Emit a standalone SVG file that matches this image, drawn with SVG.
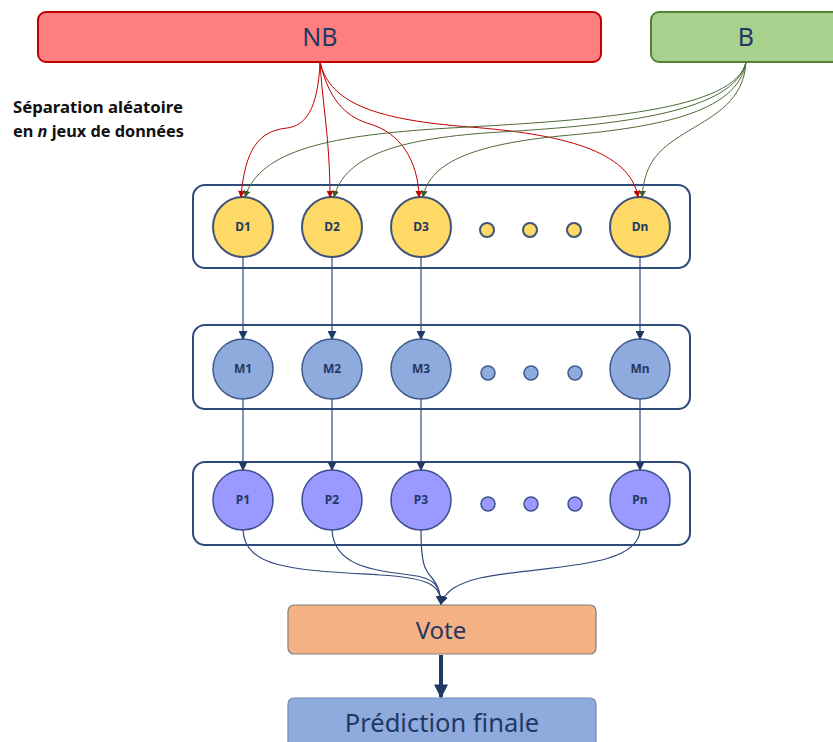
<svg xmlns="http://www.w3.org/2000/svg" width="833" height="742" viewBox="0 0 833 742">
<style>
.box{stroke-width:2}
.cont{fill:#fff;stroke:#2f4b7c;stroke-width:2}
.d{fill:#ffd966;stroke:#3f5478;stroke-width:2}
.m{fill:#8faadc;stroke:#3f5a8a;stroke-width:1.5}
.p{fill:#9999ff;stroke:#3d4f8a;stroke-width:1.5}
.lbl{font-family:"Noto Sans","Open Sans",sans-serif;font-weight:bold;font-size:12px;fill:#1f3864;text-anchor:middle}
.big{font-family:"Noto Sans","Open Sans",sans-serif;fill:#1f3864;text-anchor:middle}
.side{font-family:"Noto Sans","Open Sans",sans-serif;font-weight:bold;font-size:15.5px;fill:#111}
.red{fill:none;stroke:#c00000;stroke-width:1}
.grn{fill:none;stroke:#4e6b35;stroke-width:1}
.blu{fill:none;stroke:#2f4b7c;stroke-width:1.2}
</style>
<defs>
<marker id="ar" viewBox="0 0 10 10" refX="9" refY="5" markerWidth="7" markerHeight="7" orient="auto" markerUnits="userSpaceOnUse"><path d="M0,0L10,5L0,10z" fill="#c00000"/></marker>
<marker id="ag" viewBox="0 0 10 10" refX="9" refY="5" markerWidth="7" markerHeight="7" orient="auto" markerUnits="userSpaceOnUse"><path d="M0,0L10,5L0,10z" fill="#3d5a28"/></marker>
<marker id="ab" viewBox="0 0 10 10" refX="9" refY="5" markerWidth="9" markerHeight="9" orient="auto" markerUnits="userSpaceOnUse"><path d="M0,0L10,5L0,10z" fill="#1f3864"/></marker>
<marker id="abig" viewBox="0 0 10 10" refX="9" refY="5" markerWidth="14" markerHeight="14" orient="auto" markerUnits="userSpaceOnUse"><path d="M0,0L10,5L0,10z" fill="#1f3864"/></marker>
</defs>

<g id="NB"><rect x="38" y="12" width="563" height="50" rx="8" fill="#ff7f7f" stroke="#c00000" class="box"/><text x="320" y="46" class="big" font-size="25">NB</text></g>
<g id="B"><rect x="651" y="12" width="200" height="50" rx="8" fill="#a9d18e" stroke="#548235" class="box"/><text x="746" y="46" class="big" font-size="25">B</text></g>
<g id="label"><text x="13" y="113" class="side" textLength="170" lengthAdjust="spacingAndGlyphs">Séparation aléatoire</text><text x="13" y="137" class="side" textLength="171" lengthAdjust="spacingAndGlyphs">en <tspan font-style="italic">n</tspan> jeux de données</text></g>

<g id="rowD"><rect x="193" y="185" width="497" height="83" rx="12" class="cont"/>
<g id="D1"><circle cx="243" cy="227" r="30" class="d"/><text x="243" y="231" class="lbl">D1</text></g>
<g id="D2"><circle cx="332" cy="227" r="30" class="d"/><text x="332" y="231" class="lbl">D2</text></g>
<g id="D3"><circle cx="421" cy="227" r="30" class="d"/><text x="421" y="231" class="lbl">D3</text></g>
<circle cx="487" cy="230" r="7" class="d"/><circle cx="530" cy="230" r="7" class="d"/><circle cx="574" cy="230" r="7" class="d"/>
<g id="Dn"><circle cx="640" cy="227" r="30" class="d"/><text x="640" y="231" class="lbl">Dn</text></g></g>

<g id="rowM"><rect x="193" y="325" width="497" height="84" rx="12" class="cont"/>
<g id="M1"><circle cx="243" cy="369" r="30" class="m"/><text x="243" y="373" class="lbl">M1</text></g>
<g id="M2"><circle cx="332" cy="369" r="30" class="m"/><text x="332" y="373" class="lbl">M2</text></g>
<g id="M3"><circle cx="421" cy="369" r="30" class="m"/><text x="421" y="373" class="lbl">M3</text></g>
<circle cx="488" cy="373" r="7" class="m"/><circle cx="531" cy="373" r="7" class="m"/><circle cx="575" cy="373" r="7" class="m"/>
<g id="Mn"><circle cx="640" cy="369" r="30" class="m"/><text x="640" y="373" class="lbl">Mn</text></g></g>

<g id="rowP"><rect x="193" y="462" width="497" height="83" rx="12" class="cont"/>
<g id="P1"><circle cx="243" cy="500" r="30" class="p"/><text x="243" y="504" class="lbl">P1</text></g>
<g id="P2"><circle cx="332" cy="500" r="30" class="p"/><text x="332" y="504" class="lbl">P2</text></g>
<g id="P3"><circle cx="421" cy="500" r="30" class="p"/><text x="421" y="504" class="lbl">P3</text></g>
<circle cx="488" cy="504" r="7" class="p"/><circle cx="531" cy="504" r="7" class="p"/><circle cx="575" cy="504" r="7" class="p"/>
<g id="Pn"><circle cx="640" cy="500" r="30" class="p"/><text x="640" y="504" class="lbl">Pn</text></g></g>

<g id="Vote"><rect x="288" y="605" width="308" height="49" rx="6" fill="#f4b183" stroke="#7f7f7f" stroke-width="1.2"/><text x="441" y="639" class="big" font-size="24">Vote</text></g>
<g id="Prediction"><rect x="288" y="698" width="308" height="60" rx="6" fill="#8faadc" stroke="#6d87b8" stroke-width="1.2"/><text x="442" y="732" class="big" font-size="25.5">Prédiction finale</text></g>

<g id="connectors">
<path class="red" marker-end="url(#ar)" d="M320,62 C318,110 305,126 287,128 C258,131 245,150 241,197"/>
<path class="red" marker-end="url(#ar)" d="M320,62 C322,100 330,140 330,197"/>
<path class="red" marker-end="url(#ar)" d="M320,62 C330,105 350,118 370,124 C400,133 418,160 419,197"/>
<path class="red" marker-end="url(#ar)" d="M320,62 C330,105 380,120 470,127 C560,134 630,150 638,197"/>
<path class="grn" marker-end="url(#ag)" d="M746,62 C744,100 715,115 690,130 C660,148 645,160 642,197"/>
<path class="grn" marker-end="url(#ag)" d="M746,62 C735,110 600,120 450,128 C330,135 260,150 245,197"/>
<path class="grn" marker-end="url(#ag)" d="M746,62 C735,112 620,125 500,132 C400,138 345,155 334,197"/>
<path class="grn" marker-end="url(#ag)" d="M746,62 C738,115 650,128 560,136 C480,144 430,160 423,197"/>
<path class="blu" marker-end="url(#ab)" d="M243,257 V339"/>
<path class="blu" marker-end="url(#ab)" d="M332,257 V339"/>
<path class="blu" marker-end="url(#ab)" d="M421,257 V339"/>
<path class="blu" marker-end="url(#ab)" d="M640,257 V339"/>
<path class="blu" marker-end="url(#ab)" d="M243,399 V470"/>
<path class="blu" marker-end="url(#ab)" d="M332,399 V470"/>
<path class="blu" marker-end="url(#ab)" d="M421,399 V470"/>
<path class="blu" marker-end="url(#ab)" d="M640,399 V470"/>
<path class="blu" marker-end="url(#ab)" d="M243,530 C245,570 300,570 380,575 C430,578 440,585 441,604"/>
<path class="blu" marker-end="url(#ab)" d="M332,530 C334,565 370,570 410,575 C435,578 440,585 441,604"/>
<path class="blu" marker-end="url(#ab)" d="M421,530 C421,565 425,570 432,578 C438,585 440,592 441,604"/>
<path class="blu" marker-end="url(#ab)" d="M640,530 C638,570 540,565 480,578 C455,584 445,592 441,604"/>
<path fill="none" stroke="#1f3864" stroke-width="4" marker-end="url(#abig)" d="M441,655 V697"/>
</g>
</svg>
